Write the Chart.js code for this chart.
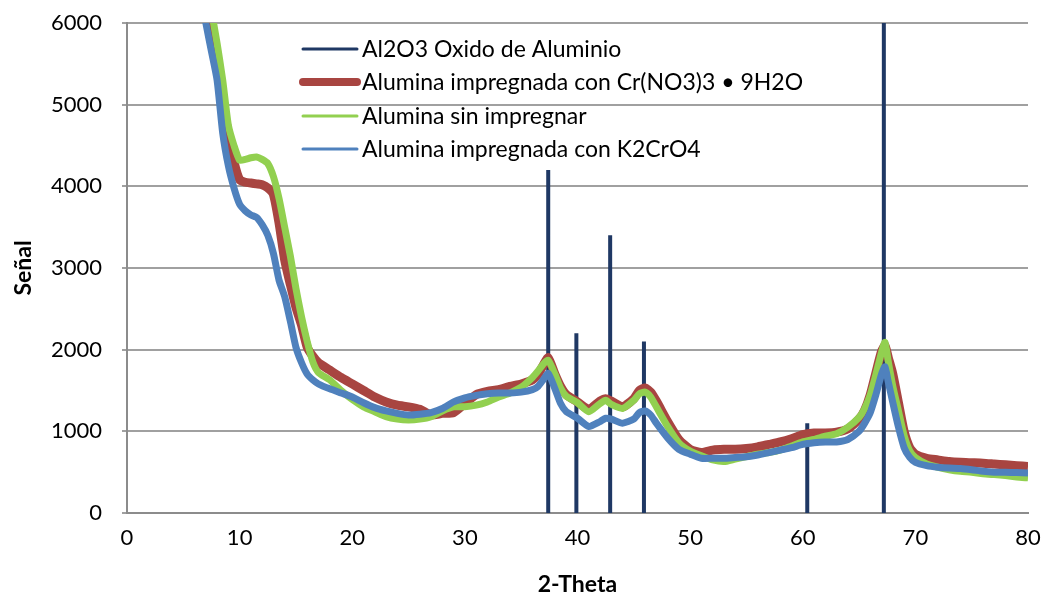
<!DOCTYPE html>
<html>
<head>
<meta charset="utf-8">
<title>Difractogramas alumina</title>
<script src="https://cdn.jsdelivr.net/npm/chart.js@4.4.1/dist/chart.umd.min.js"></script>
<style>
  html, body { margin: 0; padding: 0; background: #fff; }
  #wrap { width: 1044px; height: 600px; position: relative; }
</style>
</head>
<body>
<div id="wrap"><canvas id="xrd"></canvas></div>
<script>
// 2-theta sampling shared by the three measured patterns
const twoTheta = [
  6.5, 7, 7.5, 8, 8.5, 9, 9.5, 10, 10.5, 11, 11.5, 12, 12.5, 13, 13.5, 14, 14.5, 15, 15.5, 16, 16.5, 17,
  18, 19, 20, 21, 22, 23, 24, 25, 26, 27, 28, 29, 30, 31, 32, 33, 34, 35, 36, 36.5, 37, 37.4, 38, 38.5, 39,
  40, 41, 42, 42.5, 43, 44, 45, 45.5, 46, 46.5, 47, 48, 49, 50, 51, 52, 53, 54, 55, 56, 57, 58, 59, 60,
  61, 62, 63, 64, 65, 65.5, 66, 66.5, 67, 67.3, 67.6, 68, 68.5, 69, 69.5, 70, 71, 72, 73, 74, 75, 76, 77,
  78, 79, 80
];

// Alumina impregnada con Cr(NO3)3 · 9H2O
const crNitrato = [
  6800, 6350, 5900, 5450, 5000, 4650, 4300, 4080, 4050, 4040, 4030, 4020, 3980, 3900, 3550, 3100, 2800, 2520, 2300, 2030, 1920, 1840,
  1750, 1660, 1580, 1500, 1420, 1360, 1320, 1300, 1270, 1200, 1220, 1230, 1340, 1450, 1490, 1510, 1550, 1580, 1630, 1700, 1820, 1900, 1700, 1550, 1450,
  1360, 1270, 1370, 1400, 1370, 1300, 1400, 1500, 1530, 1480, 1370, 1120, 900, 780, 740, 770, 780, 780, 790, 810, 840, 870, 910, 960,
  980, 980, 990, 1030, 1150, 1260, 1450, 1720, 1980, 2050, 1900, 1700, 1350, 1000, 800, 720, 670, 650, 630, 620, 615, 610, 600,
  590, 580, 570
];

// Alumina sin impregnar
const sinImpregnar = [
  7000, 6600, 6150, 5750, 5300, 4750, 4500, 4320, 4330, 4350, 4360, 4330, 4280, 4120, 3850, 3500, 3150, 2750, 2400, 2100, 1850, 1720,
  1630, 1500, 1390, 1300, 1240, 1180, 1150, 1140, 1150, 1180, 1250, 1300, 1300, 1320, 1360, 1420, 1470, 1540, 1660, 1740, 1830, 1870, 1700, 1530, 1430,
  1350, 1240, 1340, 1380, 1330, 1280, 1380, 1460, 1480, 1420, 1300, 1060, 860, 760, 700, 650, 630, 660, 690, 720, 740, 770, 820, 870,
  900, 940, 970, 1050, 1170, 1280, 1450, 1700, 1970, 2090, 1850, 1550, 1250, 950, 760, 680, 600, 560, 530, 510, 500, 480, 470,
  460, 440, 430
];

// Alumina impregnada con K2CrO4
const k2cro4 = [
  6400, 6000, 5650, 5300, 4650, 4250, 3980, 3780, 3700, 3650, 3620, 3530, 3400, 3180, 2850, 2650, 2350, 2030, 1840, 1700, 1630, 1580,
  1520, 1470, 1420, 1350, 1290, 1250, 1220, 1200, 1210, 1230, 1280, 1360, 1410, 1440, 1460, 1470, 1470, 1480, 1510, 1550, 1640, 1710, 1520, 1340, 1240,
  1160, 1060, 1120, 1160, 1150, 1100, 1150, 1230, 1250, 1200, 1100, 920, 780, 720, 670, 670, 670, 680, 690, 710, 740, 770, 800, 840,
  860, 870, 870, 900, 1000, 1100, 1230, 1450, 1700, 1790, 1600, 1350, 1050, 800, 680, 620, 580, 560, 550, 545, 530, 510, 500,
  500, 495, 490
];

// Al2O3 reference pattern: peak positions and intensities
const refPos = [37.4, 39.9, 42.9, 45.9, 60.4, 67.2];
const refInt = [4200, 2200, 3400, 2100, 1100, 6000];

const seriesLabels = [
  'Al2O3 Oxido de Aluminio',
  'Alumina impregnada con Cr(NO3)3 • 9H2O',
  'Alumina sin impregnar',
  'Alumina impregnada con K2CrO4'
];
const seriesColors = ['#1F3864', '#A84541', '#92D050', '#4F81BD'];
const legendWidths = [3, 8, 3, 3];

const FONT = 'Lato, "Open Sans", sans-serif';

function toPoints(ys) {
  return twoTheta.map((x, i) => ({ x, y: ys[i] }));
}

// each reference line is a vertical stick from 0 up to its intensity
const sticks = refPos.flatMap((p, i) => [
  { x: p, y: 0 }, { x: p, y: refInt[i] }, { x: p, y: null }
]);

// legend drawn inside the plot, lines with their own widths
const innerLegend = {
  id: 'innerLegend',
  afterDraw(chart) {
    const ctx = chart.ctx;
    const x0 = 303, x1 = 357, tx = 362;
    const rows = [49, 82, 116, 149];
    ctx.save();
    ctx.font = '23px ' + FONT;
    ctx.textBaseline = 'middle';
    ctx.fillStyle = '#000';
    seriesLabels.forEach((label, i) => {
      ctx.strokeStyle = seriesColors[i];
      ctx.lineWidth = legendWidths[i];
      ctx.lineCap = 'round';
      ctx.beginPath();
      ctx.moveTo(x0, rows[i]);
      ctx.lineTo(x1, rows[i]);
      ctx.stroke();
      ctx.fillText(label, tx, rows[i] + 1);
    });
    ctx.restore();
  }
};

Chart.defaults.font.family = FONT;
Chart.defaults.color = '#000';

new Chart(document.getElementById('xrd'), {
  type: 'line',
  data: {
    datasets: [
      {
        label: seriesLabels[0], data: sticks, borderColor: seriesColors[0],
        borderWidth: 4, borderCapStyle: 'butt', spanGaps: false, tension: 0, order: 4
      },
      {
        label: seriesLabels[1], data: toPoints(crNitrato), borderColor: seriesColors[1],
        borderWidth: 9, order: 3
      },
      {
        label: seriesLabels[2], data: toPoints(sinImpregnar), borderColor: seriesColors[2],
        borderWidth: 7, order: 2
      },
      {
        label: seriesLabels[3], data: toPoints(k2cro4), borderColor: seriesColors[3],
        borderWidth: 7, order: 1
      }
    ]
  },
  options: {
    responsive: true,
    maintainAspectRatio: false,
    animation: false,
    elements: {
      point: { radius: 0, hoverRadius: 0 },
      line: { tension: 0.2, borderJoinStyle: 'round', fill: false }
    },
    layout: { padding: { top: 23, right: 16, left: 0, bottom: 0 } },
    plugins: {
      legend: { display: false },
      tooltip: { enabled: false }
    },
    scales: {
      x: {
        type: 'linear',
        min: 0, max: 80,
        ticks: { stepSize: 10, font: { size: 22 }, padding: 12, maxRotation: 0, callback: v => String(v) },
        grid: { display: false, drawTicks: false },
        border: { display: true, color: '#8c8c8c', width: 2 },
        title: {
          display: true, text: '2-Theta',
          font: { size: 23, weight: 'bold' }, padding: { top: 0, bottom: 2 }
        },
        afterFit(scale) {
          scale.height = 87;
          scale.paddingLeft = 0;
          scale.paddingRight = 0;
        }
      },
      y: {
        min: 0, max: 6000,
        ticks: { stepSize: 1000, font: { size: 22 }, padding: 20, callback: v => String(v) },
        grid: { color: '#a0a0a0', lineWidth: 2, drawTicks: true, tickLength: 5 },
        border: { display: true, color: '#8c8c8c', width: 2 },
        title: {
          display: true, text: 'Señal',
          font: { size: 23, weight: 'bold' }, padding: { top: 10, bottom: 0 }
        },
        afterFit(scale) {
          scale.width = 127;
          scale.paddingTop = 0;
          scale.paddingBottom = 0;
        }
      }
    }
  },
  plugins: [innerLegend]
});
</script>
</body>
</html>
